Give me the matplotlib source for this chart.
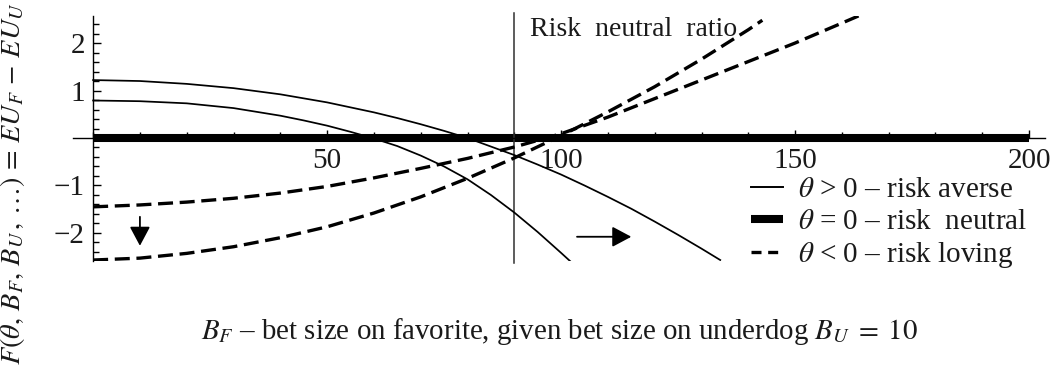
import matplotlib
matplotlib.use("Agg")
import matplotlib.pyplot as plt
from matplotlib.lines import Line2D
from matplotlib.ticker import MultipleLocator, FixedLocator

plt.rcParams['font.family'] = ['Liberation Serif', 'DejaVu Serif']
plt.rcParams['mathtext.fontset'] = 'stix'

# ---------------- data ----------------
# risk averse (theta > 0), two curves
averse_hi_x = [0, 10, 20, 30, 40, 50, 60, 65, 70, 75, 80, 85, 90, 95, 100,
               105, 110, 115, 120, 125, 130, 134]
averse_hi_y = [1.22, 1.20, 1.14, 1.05, 0.92, 0.75, 0.54, 0.42, 0.29, 0.15,
               0.0, -0.18, -0.36, -0.56, -0.77, -1.0, -1.24, -1.49, -1.76,
               -2.04, -2.33, -2.57]
averse_lo_x = [0, 10, 20, 30, 40, 45, 50, 55, 60, 65, 70, 75, 80, 85, 90, 95,
               100, 102]
averse_lo_y = [0.79, 0.775, 0.73, 0.63, 0.47, 0.37, 0.26, 0.13, -0.01, -0.17,
               -0.37, -0.6, -0.87, -1.2, -1.57, -1.98, -2.42, -2.6]
# risk loving (theta < 0), two curves
loving_hi_x = [0, 10, 20, 30, 40, 50, 60, 70, 80, 90, 100, 110, 120, 130,
               140, 150, 160, 164]
loving_hi_y = [-1.45, -1.41, -1.35, -1.27, -1.16, -1.02, -0.84, -0.64, -0.43,
               -0.19, 0.09, 0.44, 0.83, 1.22, 1.61, 2.0, 2.42, 2.59]
loving_lo_x = [0, 10, 20, 30, 40, 50, 60, 70, 80, 90, 100, 110, 120, 130,
               140, 143]
loving_lo_y = [-2.57, -2.53, -2.43, -2.29, -2.10, -1.87, -1.58, -1.24, -0.85,
               -0.42, 0.05, 0.55, 1.08, 1.66, 2.28, 2.48]
# risk neutral (theta = 0)
neutral_x = [0, 200]
neutral_y = [0, 0]
risk_neutral_ratio = 90

# arrows (start, end)
down_arrow_x = [10, 10]
down_arrow_y = [-1.66, -2.27]
right_arrow_x = [103.4, 115.0]
right_arrow_y = [-2.08, -2.08]

x_major_ticks = [50, 100, 150, 200]
y_major_ticks = [-2, -1, 1, 2]

legend_labels = [r"$\theta$ > 0 – risk averse",
                 r"$\theta$ = 0 – risk  neutral",
                 r"$\theta$ < 0 – risk loving"]
xlabel_text = r"$B_F$ – bet size on favorite, given bet size on underdog $B_U\;=\;10$"
ylabel_text = r"$F(\theta,\, B_F,\, B_U\,,\, \ldots) \,=\, EU_F \,-\, EU_U$"
ratio_text = "Risk  neutral  ratio"

# ---------------- figure ----------------
W, H = 1054, 372
fig = plt.figure(figsize=(W / 100, H / 100), dpi=100)
ax = fig.add_axes([73 / W, (H - 260.5) / H, 972 / W, 245 / H])
ax.set_xlim(-4.3, 203.4)
ax.set_ylim(-2.58, 2.58)

txtc = '#1a1a1a'
dash = (0, (4.5, 2.0))

ax.plot(neutral_x, neutral_y, color='black', lw=5.8, solid_capstyle='butt', zorder=2)
ax.axvline(risk_neutral_ratio, ymin=-0.01, ymax=1.01, color='#303030', lw=1.1,
           clip_on=False, zorder=2)
ax.plot(averse_hi_x, averse_hi_y, color='black', lw=1.25, zorder=3)
ax.plot(averse_lo_x, averse_lo_y, color='black', lw=1.25, zorder=3)
ax.plot(loving_hi_x, loving_hi_y, color='black', lw=2.4, linestyle=dash,
        dash_capstyle='butt', zorder=3)
ax.plot(loving_lo_x, loving_lo_y, color='black', lw=2.4, linestyle=dash,
        dash_capstyle='butt', zorder=3)

arrow_style = dict(arrowstyle='-|>,head_length=0.45,head_width=0.24',
                   mutation_scale=26, lw=1.3, color='black',
                   shrinkA=0, shrinkB=0)
ax.annotate('', xy=(down_arrow_x[1], down_arrow_y[1]),
            xytext=(down_arrow_x[0], down_arrow_y[0]), arrowprops=arrow_style)
ax.annotate('', xy=(right_arrow_x[1], right_arrow_y[1]),
            xytext=(right_arrow_x[0], right_arrow_y[0]), arrowprops=arrow_style)

# axes styling (Mathematica-like axes through origin)
for s in ['top', 'right']:
    ax.spines[s].set_visible(False)
ax.spines['left'].set_position(('data', 0))
ax.spines['bottom'].set_position(('data', 0))
ax.spines['left'].set_linewidth(1.0)
ax.spines['bottom'].set_linewidth(1.0)
ax.xaxis.set_major_locator(FixedLocator(x_major_ticks))
ax.xaxis.set_minor_locator(MultipleLocator(10))
ax.yaxis.set_major_locator(FixedLocator(y_major_ticks))
ax.yaxis.set_minor_locator(MultipleLocator(0.2))
ax.tick_params(axis='both', which='both', direction='in', colors='black',
               labelcolor=txtc, labelsize=21)
ax.tick_params(axis='x', which='major', length=6, width=1.0, pad=7)
ax.tick_params(axis='x', which='minor', length=4, width=1.0)
ax.tick_params(axis='y', which='major', length=6, width=1.0, pad=6)
ax.tick_params(axis='y', which='minor', length=4, width=1.0)

# legend
handles = [Line2D([], [], color='black', lw=1.4),
           Line2D([], [], color='black', lw=5.8, solid_capstyle='butt'),
           Line2D([], [], color='black', lw=2.4, linestyle=(0, (3.0, 2.0)),
                  dash_capstyle='butt')]
leg = fig.legend(handles, legend_labels, loc='upper left',
                 bbox_to_anchor=(751 / W, (H - 177) / H), frameon=False,
                 fontsize=21, handlelength=1.1, handletextpad=0.5,
                 labelspacing=0.17, borderpad=0, borderaxespad=0)
for t in leg.get_texts():
    t.set_color(txtc)

fig.text(530 / W, (H - 36) / H, ratio_text, fontsize=20, color=txtc,
         ha='left', va='baseline')
fig.text(560 / W, (H - 339) / H, xlabel_text, fontsize=20.8, color=txtc,
         ha='center', va='baseline')
fig.text(13 / W, (H - 184) / H, ylabel_text, fontsize=20.3, color=txtc,
         ha='center', va='center', rotation=90)

fig.savefig('out.png', dpi=100)
